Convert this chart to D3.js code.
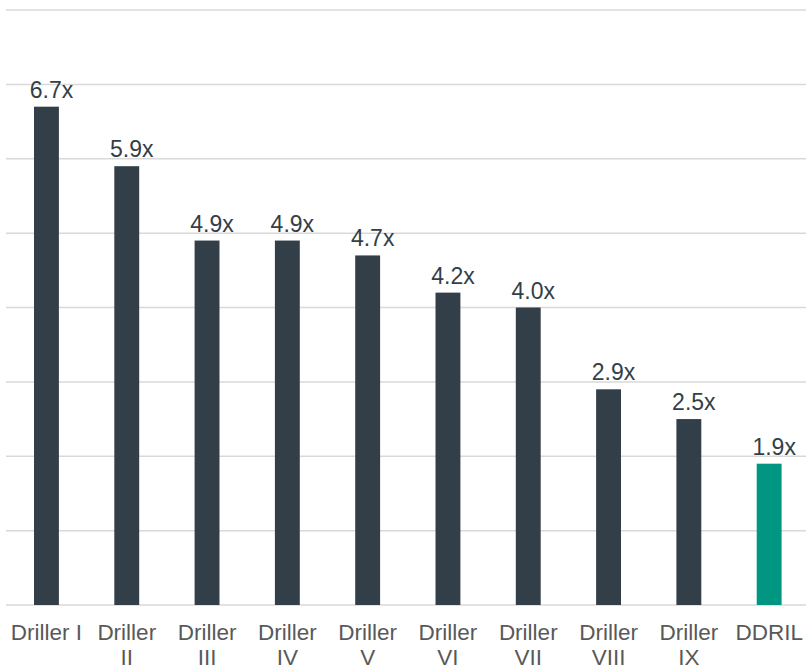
<!DOCTYPE html>
<html><head><meta charset="utf-8">
<script src="https://cdn.jsdelivr.net/npm/d3@7/dist/d3.min.js"></script>
<style>body{margin:0;background:#fff}svg{display:block}</style>
</head><body>
<svg id="c" width="806" height="670"></svg>
<script>
const categories = ["Driller I","Driller II","Driller III","Driller IV","Driller V","Driller VI","Driller VII","Driller VIII","Driller IX","DDRIL"];
const values = [6.7,5.9,4.9,4.9,4.7,4.2,4.0,2.9,2.5,1.9];
const valueLabels = ["6.7x","5.9x","4.9x","4.9x","4.7x","4.2x","4.0x","2.9x","2.5x","1.9x"];
const gridTicks = [0,1,2,3,4,5,6,7,8];
const highlight = "DDRIL";

const svg = d3.select("#c");
const x = d3.scaleBand().domain(categories).range([6.3, 809.3]).paddingInner(0.69).paddingOuter(0.345);
const y = d3.scaleLinear().domain([0, 8]).range([605, 10]);

svg.append("g").selectAll("line").data(gridTicks).join("line")
  .attr("x1", 6).attr("x2", 806)
  .attr("y1", d => y(d)).attr("y2", d => y(d))
  .attr("stroke", "#d9d9d9").attr("stroke-width", 1.5);

svg.append("g").selectAll("rect").data(categories).join("rect")
  .attr("x", d => x(d)).attr("width", x.bandwidth())
  .attr("y", (d,i) => y(values[i])).attr("height", (d,i) => y(0) - y(values[i]))
  .attr("fill", d => d === highlight ? "#009681" : "#333f48");

svg.append("g").selectAll("text").data(categories).join("text")
  .attr("x", d => x(d) + x.bandwidth()/2 + 5)
  .attr("y", (d,i) => y(values[i]) - 9)
  .attr("text-anchor", "middle")
  .attr("font-family", "Liberation Sans, Arial, sans-serif")
  .attr("font-size", 23).attr("fill", "#333f48")
  .text((d,i) => valueLabels[i]);

const lab = svg.append("g").selectAll("text").data(categories).join("text")
  .attr("text-anchor", "middle")
  .attr("font-family", "Liberation Sans, Arial, sans-serif")
  .attr("font-size", 22.5).attr("fill", "#595959");
lab.each(function(d){
  const parts = d === "Driller I" || d === "DDRIL" ? [d] : [d.split(" ")[0], d.split(" ")[1]];
  const t = d3.select(this);
  parts.forEach((p,k) => {
    t.append("tspan").attr("x", x(d) + x.bandwidth()/2).attr("y", 640 + k*25.2).text(p);
  });
});
</script>
</body></html>
